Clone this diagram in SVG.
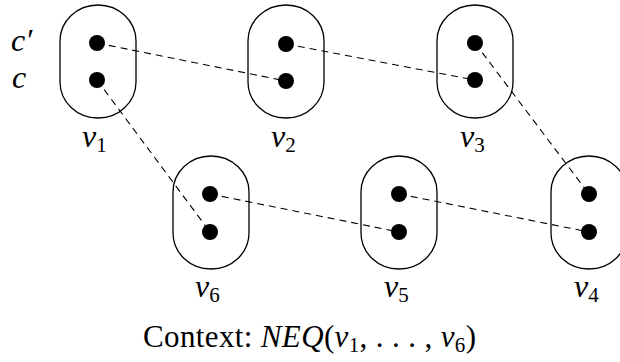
<svg xmlns="http://www.w3.org/2000/svg" width="620" height="362" viewBox="0 0 620 362">
<style>
.oval{fill:none;stroke:#000;stroke-width:1.3}
.dot{fill:#000}
.edge{stroke:#000;stroke-width:1.1;stroke-dasharray:7,5;fill:none}
.lbl{font-family:"Liberation Serif",serif;font-style:italic;font-size:32px;fill:#000}
.sub{font-size:21px;font-style:normal}
.ctx{font-family:"Liberation Serif",serif;font-size:31px;fill:#000}
</style>
<rect width="620" height="362" fill="#fff"/>
<g id="connectors">
<line class="edge" x1="97" y1="43" x2="286" y2="81"/>
<line class="edge" x1="286" y1="44" x2="475" y2="80"/>
<line class="edge" x1="475" y1="43" x2="589" y2="194"/>
<line class="edge" x1="97" y1="80" x2="210" y2="232"/>
<line class="edge" x1="210" y1="194" x2="399" y2="232"/>
<line class="edge" x1="399" y1="194" x2="589" y2="232"/>
</g>
<g id="side-labels">
<text class="lbl" x="11" y="51">c′</text>
<text class="lbl" x="12" y="88">c</text>
</g>
<g id="v1">
<rect class="oval" x="60" y="5" width="76" height="113" rx="38" ry="36"/>
<circle class="dot" cx="97" cy="43" r="8"/>
<circle class="dot" cx="97" cy="80" r="8"/>
<text class="lbl" x="82" y="147">v<tspan class="sub" dy="5">1</tspan></text>
</g>
<g id="v2">
<rect class="oval" x="248" y="5" width="76" height="113" rx="38" ry="36"/>
<circle class="dot" cx="286" cy="44" r="8"/>
<circle class="dot" cx="286" cy="81" r="8"/>
<text class="lbl" x="271" y="147">v<tspan class="sub" dy="5">2</tspan></text>
</g>
<g id="v3">
<rect class="oval" x="437" y="5" width="76" height="113" rx="38" ry="36"/>
<circle class="dot" cx="475" cy="43" r="8"/>
<circle class="dot" cx="475" cy="80" r="8"/>
<text class="lbl" x="460" y="147">v<tspan class="sub" dy="5">3</tspan></text>
</g>
<g id="v6">
<rect class="oval" x="173" y="156" width="76" height="113" rx="38" ry="36"/>
<circle class="dot" cx="210" cy="194" r="8"/>
<circle class="dot" cx="210" cy="232" r="8"/>
<text class="lbl" x="195" y="297">v<tspan class="sub" dy="5">6</tspan></text>
</g>
<g id="v5">
<rect class="oval" x="361" y="156" width="76" height="113" rx="38" ry="36"/>
<circle class="dot" cx="399" cy="194" r="8"/>
<circle class="dot" cx="399" cy="232" r="8"/>
<text class="lbl" x="384" y="297">v<tspan class="sub" dy="5">5</tspan></text>
</g>
<g id="v4">
<rect class="oval" x="551" y="156" width="76" height="113" rx="38" ry="36"/>
<circle class="dot" cx="589" cy="194" r="8"/>
<circle class="dot" cx="589" cy="232" r="8"/>
<text class="lbl" x="574" y="297">v<tspan class="sub" dy="5">4</tspan></text>
</g>
<g id="caption">
<text class="ctx" x="143" y="347" textLength="333" lengthAdjust="spacing">Context:  <tspan font-style="italic">NEQ</tspan>(<tspan font-style="italic">v</tspan><tspan font-size="21" dy="5">1</tspan><tspan dy="-5">, . . . , </tspan><tspan font-style="italic">v</tspan><tspan font-size="21" dy="5">6</tspan><tspan dy="-5">)</tspan></text>
</g>
</svg>
